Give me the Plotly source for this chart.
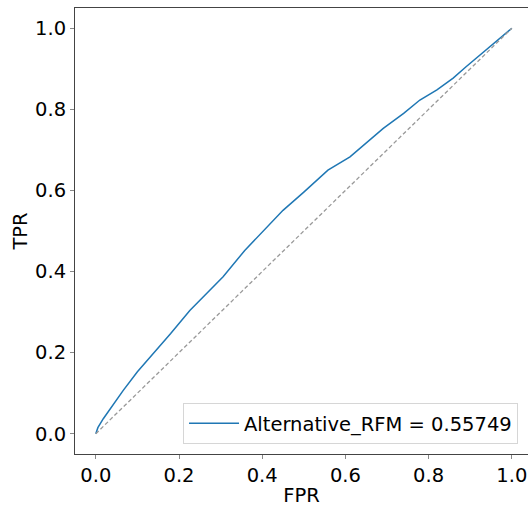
import plotly.graph_objects as go

fpr = [0, 0.005, 0.018, 0.04, 0.066, 0.10, 0.146, 0.18, 0.226, 0.26, 0.306, 0.358,
       0.40, 0.45, 0.50, 0.558, 0.611, 0.65, 0.691, 0.74, 0.779, 0.82, 0.859, 0.89,
       0.923, 0.96, 1.0]
tpr = [0, 0.015, 0.037, 0.07, 0.107, 0.153, 0.206, 0.247, 0.304, 0.340, 0.387, 0.452,
       0.498, 0.551, 0.596, 0.650, 0.683, 0.717, 0.753, 0.790, 0.823, 0.848, 0.877, 0.905,
       0.934, 0.965, 1.0]
diag = [0, 1]
label = "Alternative_RFM = 0.55749"
x_ticks = [0.0, 0.2, 0.4, 0.6, 0.8, 1.0]
y_ticks = [0.0, 0.2, 0.4, 0.6, 0.8, 1.0]

font = "DejaVu Sans"
fs = 19.5

fig = go.Figure()
fig.add_trace(go.Scatter(x=fpr, y=tpr, mode="lines", name=label,
                         line=dict(color="#1f77b4", width=1.5)))
fig.add_trace(go.Scatter(x=diag, y=diag, mode="lines", showlegend=False,
                         line=dict(color="#999999", width=1.3, dash="4px,2.5px")))

fig.update_layout(
    width=528, height=507,
    margin=dict(l=75, r=0, t=8, b=53),
    paper_bgcolor="white", plot_bgcolor="white",
    font=dict(family=font, size=fs, color="black"),
    showlegend=True,
    legend=dict(x=0.978, y=0.022, xanchor="right", yanchor="bottom",
                bgcolor="white", bordercolor="#d6d6d6", borderwidth=1,
                itemwidth=50,
                font=dict(family=font, size=fs)),
)
fig.update_xaxes(range=[-0.05, 1.0389], tickvals=x_ticks,
                 ticktext=[f"{v:.1f}" for v in x_ticks],
                 showgrid=False, zeroline=False, showline=True, mirror=True,
                 linecolor="#444444", linewidth=1, ticks="outside", ticklen=4,
                 tickwidth=1, tickcolor="#888888",
                 title=dict(text="FPR", font=dict(family=font, size=fs), standoff=5))
fig.update_yaxes(range=[-0.05, 1.05], tickvals=y_ticks,
                 ticktext=[f"{v:.1f}" for v in y_ticks],
                 showgrid=False, zeroline=False, showline=True, mirror=False,
                 linecolor="#444444", linewidth=1, ticks="outside", ticklen=4,
                 tickwidth=1, tickcolor="#888888",
                 title=dict(text="TPR", font=dict(family=font, size=fs), standoff=2))

fig.write_html("out.html")
